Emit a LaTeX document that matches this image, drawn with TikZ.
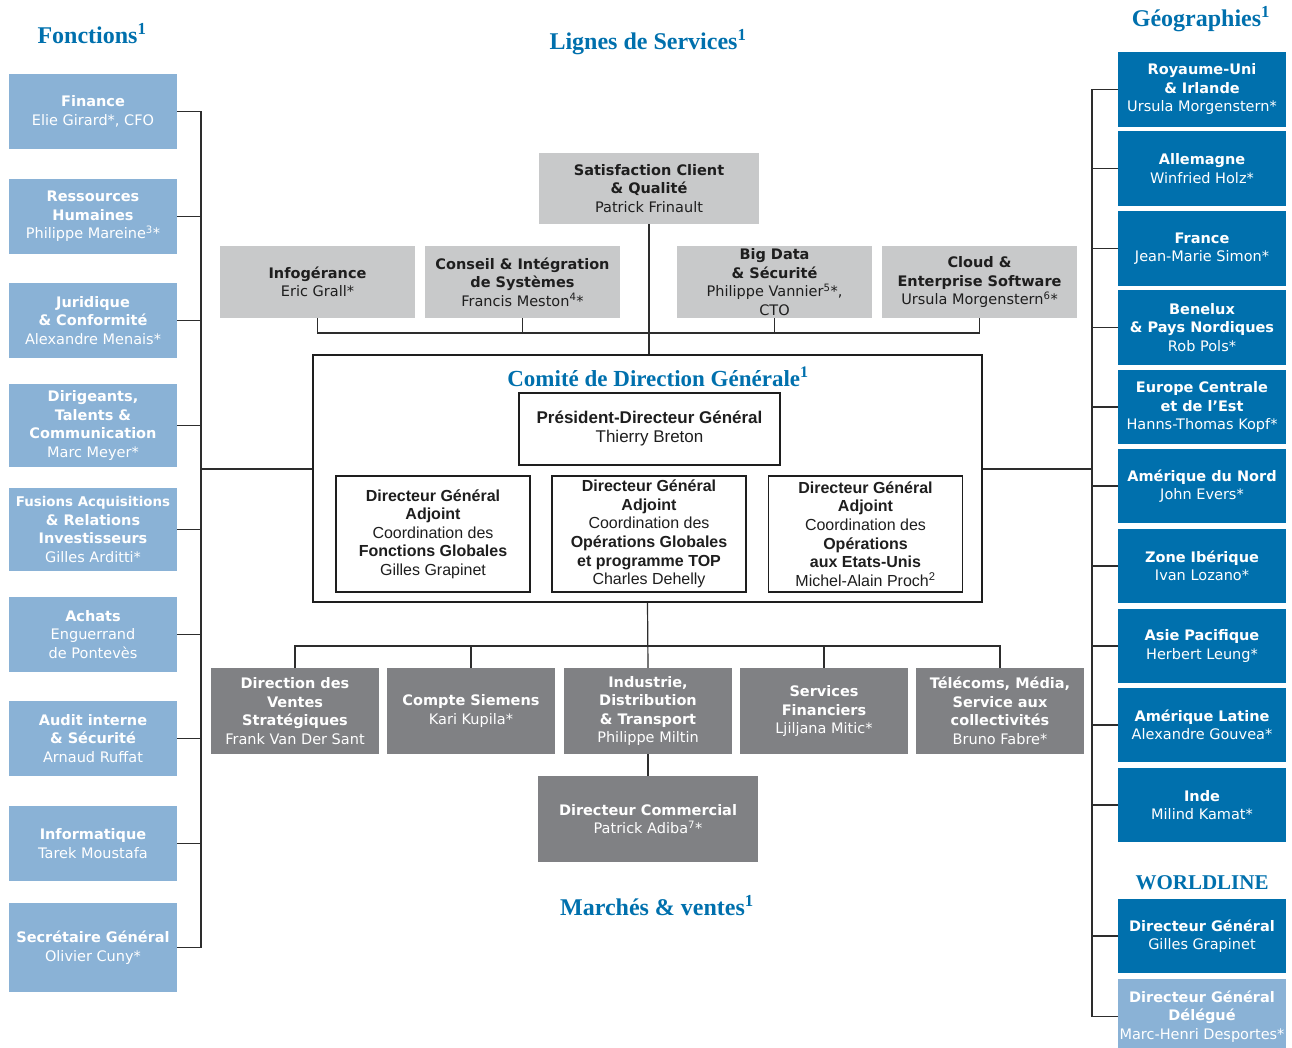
\documentclass[tikz,border=0pt]{standalone}
\usepackage{fontspec}
\setsansfont{DejaVu Sans}
\newfontfamily\cdgfont{Liberation Sans}
\newfontfamily\titrefont{Liberation Serif}
\definecolor{bleuclair}{RGB}{138,178,214}
\definecolor{bleufonce}{RGB}{0,112,173}
\definecolor{grisclair}{RGB}{200,201,202}
\definecolor{grisfonce}{RGB}{128,129,132}
\definecolor{trait}{RGB}{45,45,45}
\definecolor{encre}{RGB}{30,30,30}
\tikzset{
    boite/.style = {
        shape=rectangle,
        inner sep=0pt,
        align=center,
        font=\sffamily\fontsize{14.5}{18.5}\selectfont
    },
    fonction/.style = {
        boite,
        fill=bleuclair,
        text=white,
        minimum width=168pt,
        minimum height=75pt
    },
    geo/.style = {
        boite,
        fill=bleufonce,
        text=white,
        minimum width=168pt,
        minimum height=75pt
    },
    ligne/.style = {
        boite,
        fill=grisclair,
        text=encre,
        minimum width=195pt,
        minimum height=72pt
    },
    marche/.style = {
        boite,
        fill=grisfonce,
        text=white,
        minimum width=168pt,
        minimum height=86pt
    },
    comite/.style = {
        draw=encre,
        shape=rectangle,
        line width=1.8pt,
        minimum width=669pt,
        minimum height=247pt
    },
    membre/.style = {
        draw=encre,
        shape=rectangle,
        line width=1.5pt,
        fill=white,
        inner sep=0pt,
        align=center,
        text=encre,
        minimum width=194pt,
        minimum height=116pt,
        font=\cdgfont\fontsize{16}{18.6}\selectfont
    },
    titre/.style = {
        text=bleufonce,
        inner sep=0pt,
        font=\titrefont\bfseries\fontsize{24}{24}\selectfont
    },
    lien/.style = {
        draw=trait,
        line width=1.2pt
    },
}
\begin{document}
\begin{tikzpicture}[x=1pt, y=-1pt]
            \useasboundingbox (0,0) rectangle (1292,1048);

            \node[titre] (tfon) at (92,34) {Fonctions\textsuperscript{1}};
            \node[titre] (tlig) at (648,42) {Lignes de Services\textsuperscript{1}};
            \node[titre] (tgeo) at (1201,19) {Géographies\textsuperscript{1}};
            \node[titre] (tmar) at (657,906) {Marchés \& ventes\textsuperscript{1}};
            \node[titre, font=\titrefont\bfseries\fontsize{21}{21}\selectfont] (twl) at (1202,883) {WORLDLINE};

            \node[fonction] (fin) at (93,111.5) {\textbf{Finance}\\Elie Girard*, CFO};
            \node[fonction] (rh) at (93,216.5) {\textbf{Ressources}\\\textbf{Humaines}\\Philippe Mareine\textsuperscript{3}*};
            \node[fonction] (jur) at (93,320.5) {\textbf{Juridique}\\\textbf{\& Conformité}\\Alexandre Menais*};
            \node[fonction, minimum height=83pt] (dir) at (93,425.5) {\textbf{Dirigeants,}\\\textbf{Talents \&}\\\textbf{Communication}\\Marc Meyer*};
            \node[fonction, minimum height=83pt] (fus) at (93,529.5) {{\fontsize{13.4}{18.5}\selectfont\textbf{Fusions Acquisitions}}\\\textbf{\& Relations}\\\textbf{Investisseurs}\\Gilles Arditti*};
            \node[fonction] (ach) at (93,634.5) {\textbf{Achats}\\Enguerrand\\de Pontevès};
            \node[fonction] (aud) at (93,738.5) {\textbf{Audit interne}\\\textbf{\& Sécurité}\\Arnaud Ruffat};
            \node[fonction] (inf) at (93,843.5) {\textbf{Informatique}\\Tarek Moustafa};
            \node[fonction, minimum height=89pt] (sec) at (93,947.5) {\textbf{Secrétaire Général}\\Olivier Cuny*};

            \node[ligne, minimum width=220pt, minimum height=71pt] (sat) at (649,188.5) {\textbf{Satisfaction Client}\\\textbf{\& Qualité}\\Patrick Frinault};
            \node[ligne] (info) at (317.5,282) {\textbf{Infogérance}\\Eric Grall*};
            \node[ligne] (cons) at (522.5,282) {\textbf{Conseil \& Intégration}\\\textbf{de Systèmes}\\Francis Meston\textsuperscript{4}*};
            \node[ligne] (bigd) at (774.5,282) {\textbf{Big Data}\\\textbf{\& Sécurité}\\Philippe Vannier\textsuperscript{5}*,\\CTO};
            \node[ligne] (cloud) at (979.5,282) {\textbf{Cloud \&}\\\textbf{Enterprise Software}\\Ursula Morgenstern\textsuperscript{6}*};

            \node[comite] (cdg) at (647.5,478.5) {};
            \node[titre, font=\titrefont\bfseries\fontsize{23}{23}\selectfont] (tcdg) at (658,377) {Comité de Direction Générale\textsuperscript{1}};
            \node[membre, minimum width=261pt, minimum height=72pt, font=\cdgfont\fontsize{17}{19}\selectfont] (pdg) at (649.5,429) {\textbf{Président-Directeur Général}\\Thierry Breton};
            \node[membre] (dga1) at (433,534) {\textbf{Directeur Général}\\\textbf{Adjoint}\\Coordination des\\\textbf{Fonctions Globales}\\Gilles Grapinet};
            \node[membre] (dga2) at (649,534) {\textbf{Directeur Général}\\\textbf{Adjoint}\\Coordination des\\\textbf{Opérations Globales}\\\textbf{et programme TOP}\\Charles Dehelly};
            \node[membre] (dga3) at (865.5,534) {\textbf{Directeur Général}\\\textbf{Adjoint}\\Coordination des\\\textbf{Opérations}\\\textbf{aux Etats-Unis}\\Michel-Alain Proch\textsuperscript{2}};

            \node[marche] (dvs) at (295,711) {\textbf{Direction des}\\\textbf{Ventes}\\\textbf{Stratégiques}\\Frank Van Der Sant};
            \node[marche] (cs) at (471,711) {\textbf{Compte Siemens}\\Kari Kupila*};
            \node[marche] (indus) at (648,711) {\textbf{Industrie,}\\\textbf{Distribution}\\\textbf{\& Transport}\\Philippe Miltin};
            \node[marche] (sf) at (824,711) {\textbf{Services}\\\textbf{Financiers}\\Ljiljana Mitic*};
            \node[marche] (tel) at (1000,711) {\textbf{Télécoms, Média,}\\\textbf{Service aux}\\\textbf{collectivités}\\Bruno Fabre*};
            \node[marche, minimum width=220pt] (dc) at (648,819) {\textbf{Directeur Commercial}\\Patrick Adiba\textsuperscript{7}*};

            \node[geo] (ruk) at (1202,89.5) {\textbf{Royaume-Uni}\\\textbf{\& Irlande}\\Ursula Morgenstern*};
            \node[geo] (all) at (1202,168.5) {\textbf{Allemagne}\\Winfried Holz*};
            \node[geo] (fra) at (1202,248.5) {\textbf{France}\\Jean-Marie Simon*};
            \node[geo] (ben) at (1202,327.5) {\textbf{Benelux}\\\textbf{\& Pays Nordiques}\\Rob Pols*};
            \node[geo, minimum height=74pt] (eur) at (1202,407) {\textbf{Europe Centrale}\\\textbf{et de l’Est}\\Hanns-Thomas Kopf*};
            \node[geo, minimum height=74pt] (amn) at (1202,486) {\textbf{Amérique du Nord}\\John Evers*};
            \node[geo, minimum height=74pt] (zib) at (1202,566) {\textbf{Zone Ibérique}\\Ivan Lozano*};
            \node[geo, minimum height=74pt] (asp) at (1202,646) {\textbf{Asie Pacifique}\\Herbert Leung*};
            \node[geo, minimum height=74pt] (aml) at (1202,725) {\textbf{Amérique Latine}\\Alexandre Gouvea*};
            \node[geo, minimum height=74pt] (inde) at (1202,805) {\textbf{Inde}\\Milind Kamat*};
            \node[geo, minimum height=74pt] (dgw) at (1202,936) {\textbf{Directeur Général}\\Gilles Grapinet};
            \node[geo, fill=bleuclair] (dgd) at (1202,1016.5) {\textbf{Directeur Général}\\\textbf{Délégué}\\Marc-Henri Desportes*};

            \coordinate (lbus) at (201,469);
            \coordinate (rbus) at (1092,469);
            \coordinate (tbar) at (647,333);
            \coordinate (bbar) at (648,646);

            \path[lien] (fin.east) -| (lbus) |- (sec.east);
            \path[lien] (lbus) -- (lbus -| cdg.west);
            \path[lien] (rh.east) -- (rh.east -| lbus);
            \path[lien] (jur.east) -- (jur.east -| lbus);
            \path[lien] (dir.east) -- (dir.east -| lbus);
            \path[lien] (fus.east) -- (fus.east -| lbus);
            \path[lien] (ach.east) -- (ach.east -| lbus);
            \path[lien] (aud.east) -- (aud.east -| lbus);
            \path[lien] (inf.east) -- (inf.east -| lbus);

            \path[lien] (sat.south) -- (sat.south |- cdg.north);
            \path[lien] (info.south) |- (tbar -| cloud.south) -- (cloud.south);
            \path[lien] (cons.south) -- (cons.south |- tbar);
            \path[lien] (bigd.south) -- (bigd.south |- tbar);

            \path[lien] (cdg.south) -- (indus.north);
            \path[lien] (indus.south) -- (dc.north);
            \path[lien] (dvs.north) |- (bbar -| tel.north) -- (tel.north);
            \path[lien] (cs.north) -- (cs.north |- bbar);
            \path[lien] (sf.north) -- (sf.north |- bbar);

            \path[lien] (ruk.west) -| (rbus) |- (dgd.west);
            \path[lien] (rbus) -- (rbus -| cdg.east);
            \path[lien] (all.west) -- (all.west -| rbus);
            \path[lien] (fra.west) -- (fra.west -| rbus);
            \path[lien] (ben.west) -- (ben.west -| rbus);
            \path[lien] (eur.west) -- (eur.west -| rbus);
            \path[lien] (amn.west) -- (amn.west -| rbus);
            \path[lien] (zib.west) -- (zib.west -| rbus);
            \path[lien] (asp.west) -- (asp.west -| rbus);
            \path[lien] (aml.west) -- (aml.west -| rbus);
            \path[lien] (inde.west) -- (inde.west -| rbus);
            \path[lien] (dgw.west) -- (dgw.west -| rbus);

        \end{tikzpicture}
\end{document}
